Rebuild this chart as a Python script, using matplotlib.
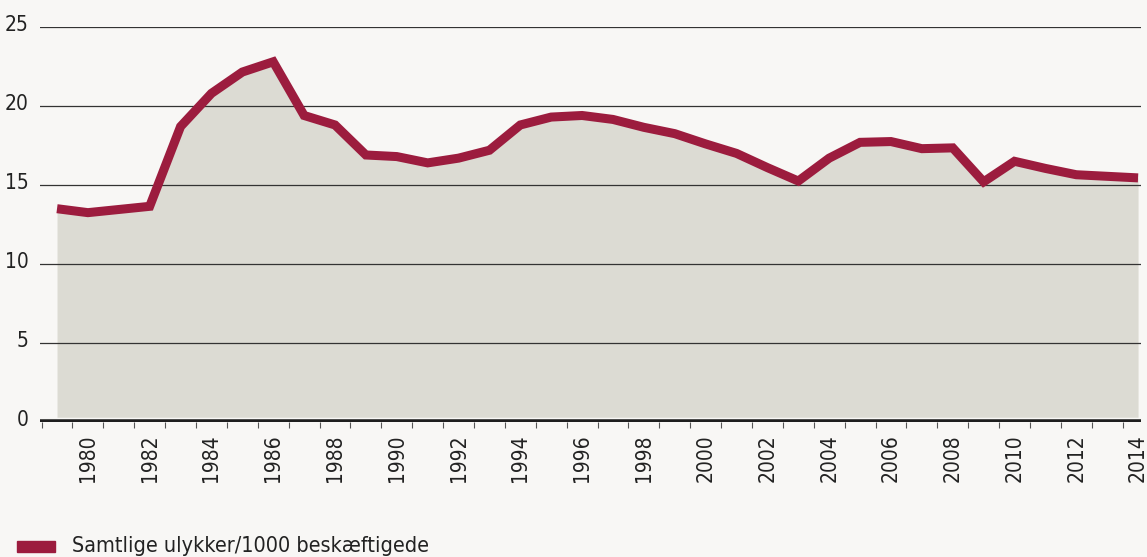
#!/usr/bin/env python3

import numpy as np
import matplotlib.pyplot as plt
from matplotlib.transforms import ScaledTranslation

# data
years = list(range(1979, 2015))
rate = [13.5, 13.25, 13.45, 13.65, 18.7, 20.8, 22.15, 22.8, 19.4, 18.8,
        16.9, 16.8, 16.4, 16.7, 17.2, 18.8, 19.3, 19.4, 19.15, 18.65,
        18.25, 17.6, 17.0, 16.1, 15.25, 16.7, 17.7, 17.75, 17.3, 17.35,
        15.2, 16.5, 16.05, 15.65, 15.55, 15.45]
year_labels = [str(y) for y in range(1980, 2015, 2)]
legend_label = "Samtlige ulykker/1000 beskæftigede"

BG = "#f8f7f5"
FILL = "#dcdbd3"
LINE = "#9c1c3e"
TXT = "#222222"

plt.rcParams['font.family'] = ['DejaVu Sans']
plt.rcParams['font.stretch'] = 'condensed'

fig = plt.figure(figsize=(11.47, 5.57), dpi=100, facecolor=BG)
ax = fig.add_axes([0.0349, 0.2424, 0.96, 0.7091], facecolor=BG)

x = np.array(years, dtype=float)
ax.fill_between(x, rate, 0.3, color=FILL, lw=0, zorder=1)
ax.plot(x, rate, color=LINE, lw=6.5, solid_joinstyle="miter",
        solid_capstyle="butt", zorder=3)

ax.set_ylim(0, 25)
ax.set_xlim(1978.45, 2014.1)
ax.set_yticks([0, 5, 10, 15, 20, 25])
for yv in [5, 10, 15, 20, 25]:
    ax.axhline(yv, color="#333333", lw=0.9, zorder=2)
ax.axhline(0, color="#1e1e1e", lw=4, zorder=4)

ax.tick_params(axis="y", length=0, labelsize=15, colors=TXT, pad=8)
up = ScaledTranslation(0, 2 / 100, fig.dpi_scale_trans)
for lab in ax.get_yticklabels():
    lab.set_verticalalignment("center")
    lab.set_transform(lab.get_transform() + up)

# category boundary ticks and even-year labels
ax.set_xticks(np.arange(1978.5, 2014, 1), minor=True)
ax.set_xticks([int(l) for l in year_labels])
ax.set_xticklabels(year_labels, rotation=90, fontsize=15, color=TXT)
ax.tick_params(axis="x", which="major", length=0, pad=9)
ax.tick_params(axis="x", which="minor", length=4, width=0.8,
               color="#555555", direction="out")

for s in ax.spines.values():
    s.set_visible(False)

# legend
fig.patches.append(plt.Rectangle((17 / 1147, 1 - 552 / 557), 38 / 1147,
                                 11 / 557, transform=fig.transFigure,
                                 color=LINE))
fig.text(72 / 1147, 1 - 546 / 557, legend_label, fontsize=15.5, color=TXT,
         va="center", ha="left")

plt.savefig("out.png", dpi=100, facecolor=BG)
